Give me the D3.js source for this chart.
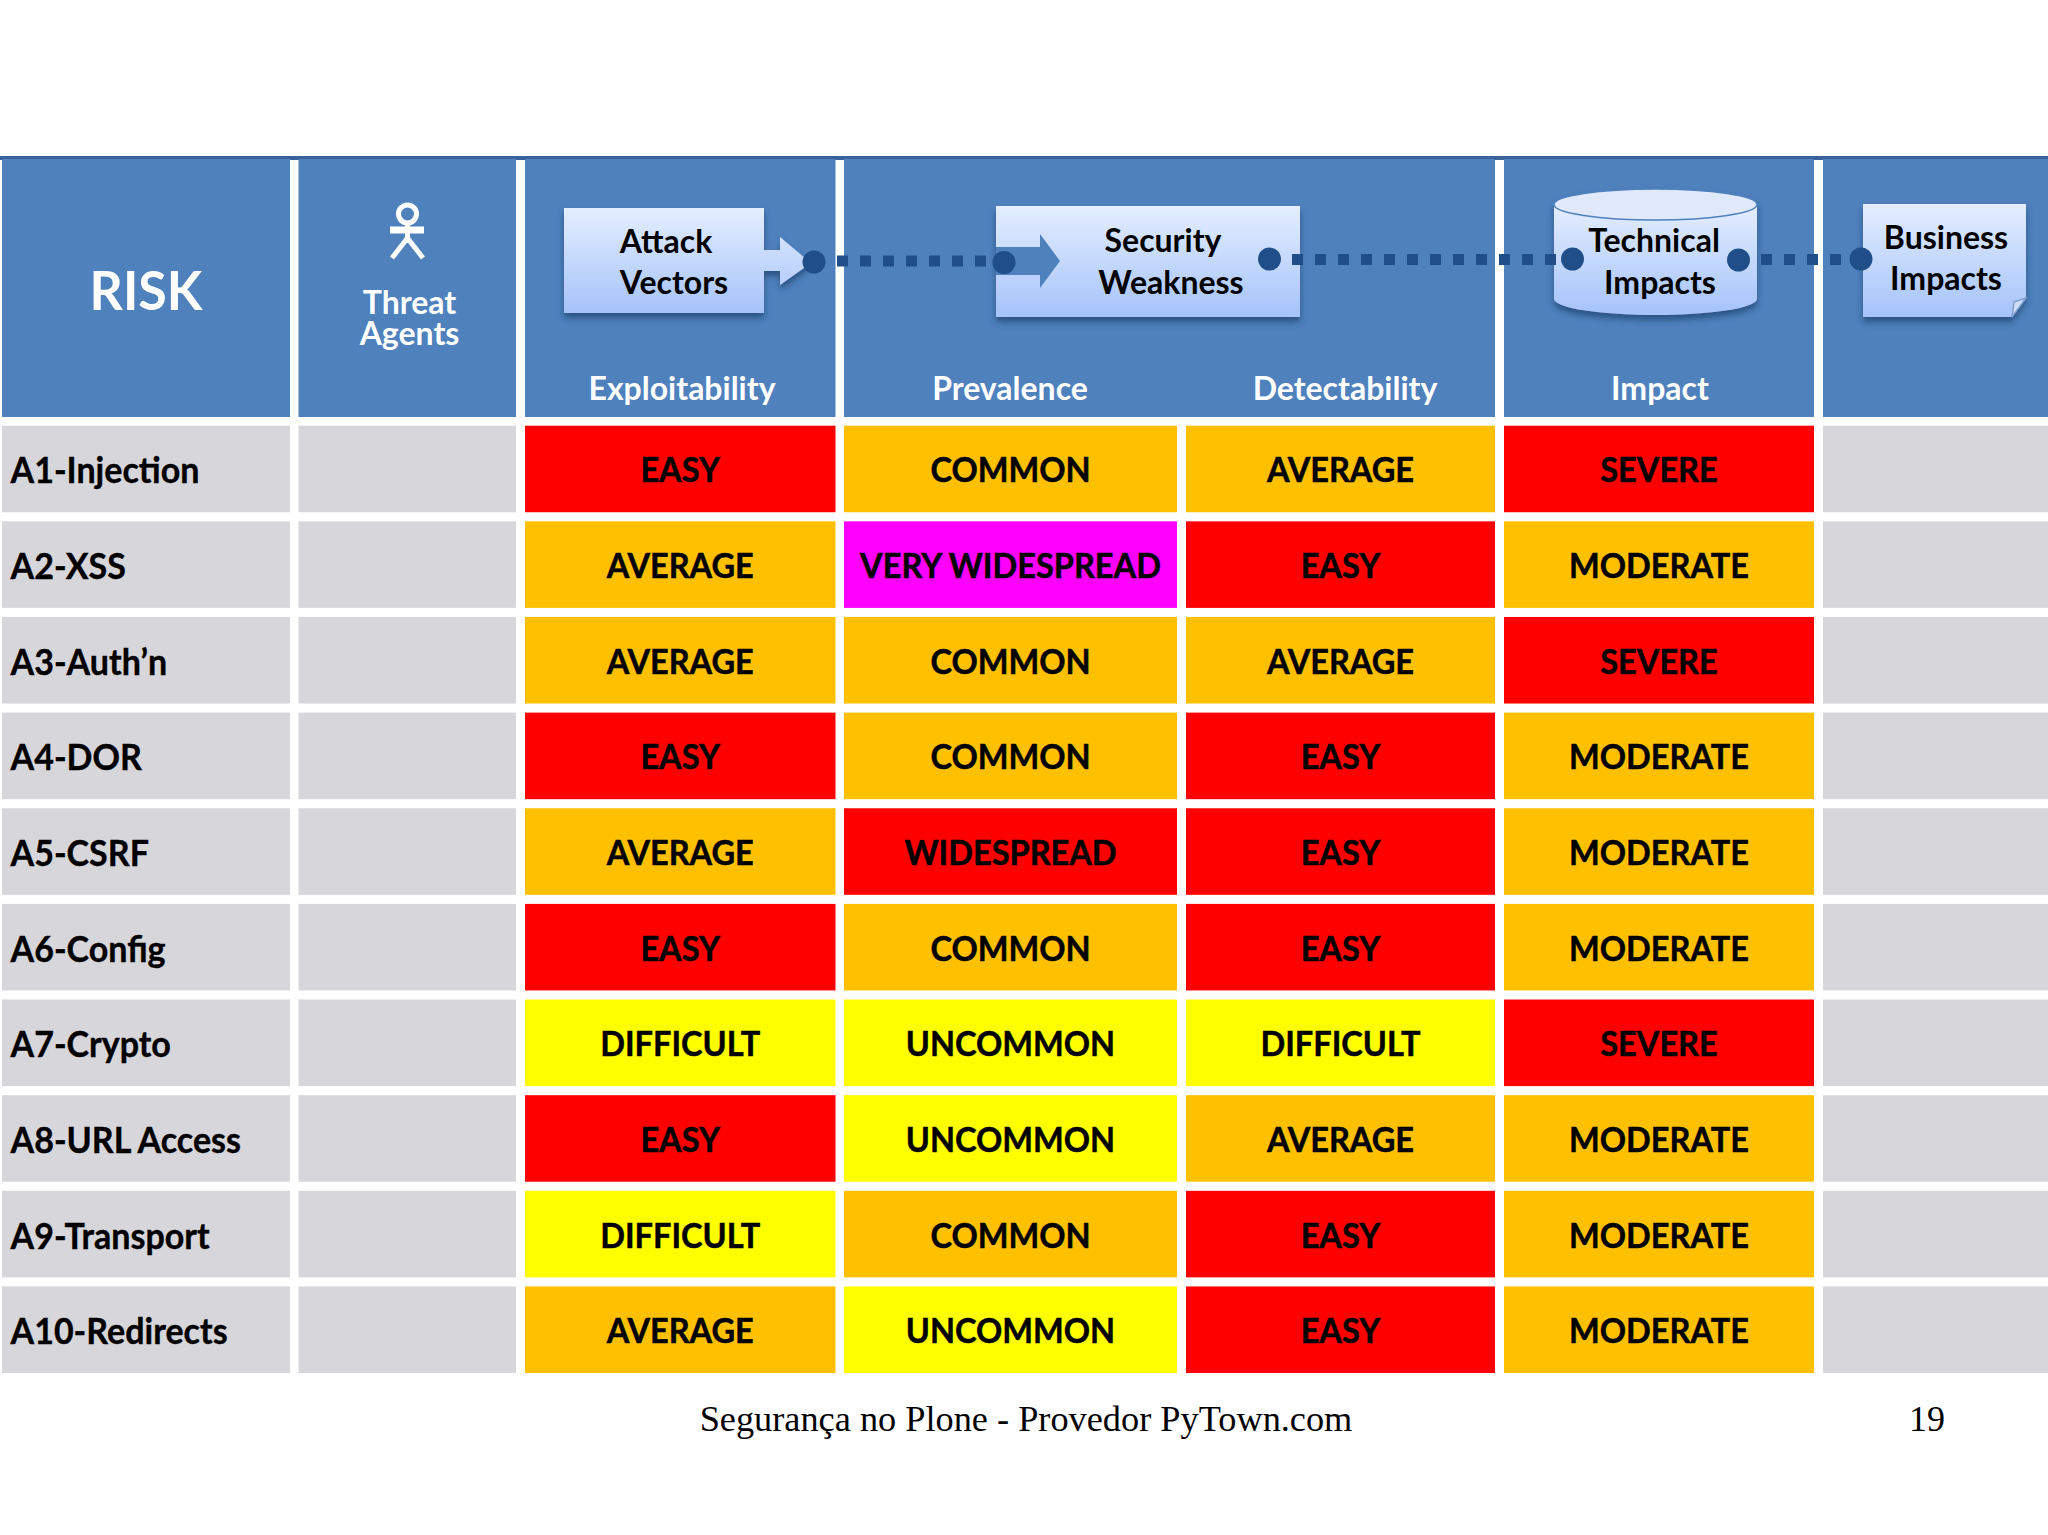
<!DOCTYPE html>
<html lang="en">
<head>
<meta charset="utf-8">
<title>OWASP Top 10 risk table</title>
<script src="https://cdn.jsdelivr.net/npm/d3@7"></script>
<style>
  html, body { margin: 0; padding: 0; background: #fff; }
  svg { display: block; }
  text { font-family: Lato, sans-serif; font-weight: 700; }
</style>
</head>
<body>
<script>
/* table content */
var risks = ["A1-Injection", "A2-XSS", "A3-Auth\u2019n", "A4-DOR", "A5-CSRF", "A6-Config", "A7-Crypto", "A8-URL Access", "A9-Transport", "A10-Redirects"];
var exploitability = ["EASY", "AVERAGE", "AVERAGE", "EASY", "AVERAGE", "EASY", "DIFFICULT", "EASY", "DIFFICULT", "AVERAGE"];
var prevalence = ["COMMON", "VERY WIDESPREAD", "COMMON", "COMMON", "WIDESPREAD", "COMMON", "UNCOMMON", "UNCOMMON", "COMMON", "UNCOMMON"];
var detectability = ["AVERAGE", "EASY", "AVERAGE", "EASY", "EASY", "EASY", "DIFFICULT", "AVERAGE", "EASY", "EASY"];
var impact = ["SEVERE", "MODERATE", "SEVERE", "MODERATE", "MODERATE", "MODERATE", "SEVERE", "MODERATE", "MODERATE", "MODERATE"];

var ratings = ["EASY", "WIDESPREAD", "SEVERE", "AVERAGE", "COMMON", "MODERATE", "DIFFICULT", "UNCOMMON", "VERY WIDESPREAD"];
var ratingColors = ["#ff0000", "#ff0000", "#ff0000", "#ffc000", "#ffc000", "#ffc000", "#ffff00", "#ffff00", "#ff00ff"];

var columns = ["risk", "threat", "exploitability", "prevalence", "detectability", "impact", "business"];
var columnLefts = [2, 298.5, 525, 844, 1186, 1504, 1823];
var columnRights = [290, 516, 835.5, 1177, 1495, 1814, 2048];

var w = 2048, h = 1535;
var blue = "#4f81bd", grey = "#d7d6da", dark = "#1f4e89";

var y = d3.scaleBand().domain(risks).range([425.7, 1373]).paddingInner(0.095);
var left = d3.scaleOrdinal().domain(columns).range(columnLefts);
var right = d3.scaleOrdinal().domain(columns).range(columnRights);
var fill = d3.scaleOrdinal().domain(ratings).range(ratingColors);

var svg = d3.select("body").append("svg").attr("width", w).attr("height", h);
var defs = svg.append("defs");

var grad = defs.append("linearGradient").attr("id", "box").attr("x1", 0).attr("y1", 0).attr("x2", 0).attr("y2", 1);
grad.append("stop").attr("offset", "0%").attr("stop-color", "#e4eeff");
grad.append("stop").attr("offset", "100%").attr("stop-color", "#a5c3fa");

var shadow = defs.append("filter").attr("id", "shadow").attr("x", "-10%").attr("y", "-10%").attr("width", "120%").attr("height", "125%");
shadow.append("feDropShadow").attr("dx", 0).attr("dy", 5).attr("stdDeviation", 3).attr("flood-color", "#1f3f6b").attr("flood-opacity", 0.7);

/* squeezed text, Lato is wider than the original face */
function label(parent, str, x, yy, size, color, squeeze, anchor) {
  return parent.append("text")
    .attr("transform", "translate(" + x + "," + yy + ") scale(" + squeeze + ",1)")
    .attr("text-anchor", anchor || "middle")
    .attr("font-size", size)
    .attr("fill", color)
    .text(str);
}

/* header band */
svg.append("rect").attr("x", 0).attr("y", 156).attr("width", w).attr("height", 4).attr("fill", "#3a6499");
var headerCells = [["risk", "risk"], ["threat", "threat"], ["exploitability", "exploitability"], ["prevalence", "detectability"], ["impact", "impact"], ["business", "business"]];
svg.selectAll("rect.head").data(headerCells).enter().append("rect")
  .attr("class", "head")
  .attr("x", function(d) { return left(d[0]); })
  .attr("y", 159)
  .attr("width", function(d) { return right(d[1]) - left(d[0]); })
  .attr("height", 258)
  .attr("fill", blue);

label(svg, "RISK", 146, 310, 53, "#fff", 0.98);
var threat = label(svg, "", 409.5, 314, 32, "#fff", 1);
threat.append("tspan").attr("x", 0).text("Threat");
threat.append("tspan").attr("x", 0).attr("dy", 31).text("Agents");
label(svg, "Exploitability", 682, 400, 32, "#fff", 1);
label(svg, "Prevalence", 1010, 400, 32, "#fff", 1);
label(svg, "Detectability", 1345, 400, 32, "#fff", 1);
label(svg, "Impact", 1660, 400, 32, "#fff", 1);

/* threat agent figure */
var actor = svg.append("g").attr("fill", "none").attr("stroke", "#fff").attr("stroke-width", 5);
actor.append("circle").attr("cx", 407.5).attr("cy", 214).attr("r", 9);
actor.append("path").attr("stroke-width", 7).attr("d", "M390,230H424");
actor.append("path").attr("d", "M407.5,224V243M392,258L407.5,238L423,258");

/* boxes */
var shapes = svg.append("g");

shapes.append("path").attr("fill", "url(#box)").attr("filter", "url(#shadow)")
  .attr("d", "M564,208H764V250H780V237L811,263L780,285V271H764V313H564Z");

shapes.append("path").attr("fill", "url(#box)").attr("filter", "url(#shadow)")
  .attr("d", "M996,206H1300V317H996Z");
shapes.append("path").attr("fill", blue)
  .attr("d", "M996,247H1040V234L1060,261L1040,288V275H996Z");

var cyl = shapes.append("g").attr("filter", "url(#shadow)");
cyl.append("path").attr("fill", "url(#box)")
  .attr("d", "M1554,204.5V299A101.5,16 0 0 0 1757,299V204.5Z");
cyl.append("ellipse").attr("cx", 1655.5).attr("cy", 204.5).attr("rx", 101.5).attr("ry", 15.5)
  .attr("fill", "#dfe9fb").attr("stroke", "#4f81bd").attr("stroke-width", 1.5);

shapes.append("path").attr("fill", "url(#box)").attr("filter", "url(#shadow)")
  .attr("d", "M1863,204H2026V298L2012,317H1863Z");
shapes.append("path").attr("fill", "#cfdcf5").attr("stroke", "#7c9fd0").attr("stroke-width", 1.5)
  .attr("d", "M2026,298L2014,302L2012,317Z");

label(svg, "Attack", 666, 253, 32, "#000", 1);
label(svg, "Vectors", 674, 294, 32, "#000", 1);
label(svg, "Security", 1163, 252, 32, "#000", 1);
label(svg, "Weakness", 1171, 294, 32, "#000", 1);
label(svg, "Technical", 1654, 252, 32, "#000", 1);
label(svg, "Impacts", 1660, 294, 32, "#000", 1);
label(svg, "Business", 1946, 249, 32, "#000", 1);
label(svg, "Impacts", 1946, 290, 32, "#000", 1);

/* dotted links */
var links = [[837, 990, 261], [1292, 1560, 259.5], [1761, 1850, 259.5]];
svg.selectAll("line.link").data(links).enter().append("line")
  .attr("class", "link")
  .attr("x1", function(d) { return d[0]; })
  .attr("x2", function(d) { return d[1]; })
  .attr("y1", function(d) { return d[2]; })
  .attr("y2", function(d) { return d[2]; })
  .attr("stroke", dark)
  .attr("stroke-width", 11)
  .attr("stroke-dasharray", "11 12");

var dots = [[814, 262], [1004, 262.5], [1269.5, 259], [1572.5, 259], [1738.5, 260], [1861, 259]];
svg.selectAll("circle.dot").data(dots).enter().append("circle")
  .attr("class", "dot")
  .attr("cx", function(d) { return d[0]; })
  .attr("cy", function(d) { return d[1]; })
  .attr("r", 11.5)
  .attr("fill", dark);

/* body rows */
var cells = [];
risks.forEach(function(r, i) {
  cells.push({ row: r, col: "risk", value: null });
  cells.push({ row: r, col: "threat", value: null });
  cells.push({ row: r, col: "exploitability", value: exploitability[i] });
  cells.push({ row: r, col: "prevalence", value: prevalence[i] });
  cells.push({ row: r, col: "detectability", value: detectability[i] });
  cells.push({ row: r, col: "impact", value: impact[i] });
  cells.push({ row: r, col: "business", value: null });
});

svg.selectAll("rect.cell").data(cells).enter().append("rect")
  .attr("class", "cell")
  .attr("x", function(d) { return left(d.col); })
  .attr("y", function(d) { return y(d.row); })
  .attr("width", function(d) { return right(d.col) - left(d.col); })
  .attr("height", y.bandwidth())
  .attr("fill", function(d) { return d.value ? fill(d.value) : grey; });

cells.filter(function(d) { return d.value; }).forEach(function(d) {
  label(svg, d.value, (left(d.col) + right(d.col)) / 2, y(d.row) + y.bandwidth() / 2 + 13.5, 35, "#000", 0.93)
    .attr("stroke", "#000").attr("stroke-width", 0.5);
});

risks.forEach(function(r) {
  label(svg, r, 10.5, y(r) + y.bandwidth() / 2 + 14.5, 37, "#000", 0.92, "start")
    .attr("stroke", "#000").attr("stroke-width", 0.4);
});

/* footer */
svg.append("text").attr("x", 1026).attr("y", 1431).attr("text-anchor", "middle")
  .style("font-family", "'Liberation Serif', serif").style("font-weight", 400)
  .attr("font-size", 36.3).attr("fill", "#000")
  .text("Segurança no Plone - Provedor PyTown.com");
svg.append("text").attr("x", 1927).attr("y", 1431).attr("text-anchor", "middle")
  .style("font-family", "'Liberation Serif', serif").style("font-weight", 400)
  .attr("font-size", 36).attr("fill", "#000")
  .text("19");
</script>
</body>
</html>
